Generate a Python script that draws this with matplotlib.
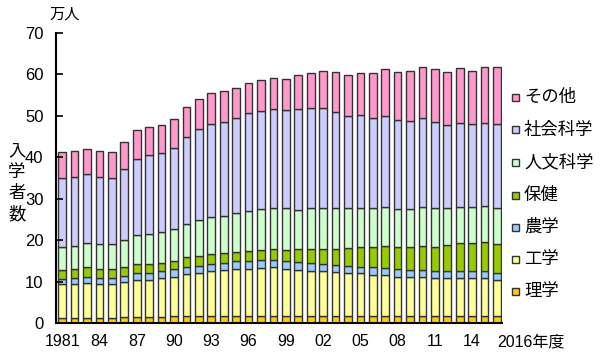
import matplotlib
matplotlib.use('Agg')
import matplotlib.pyplot as plt
from matplotlib.patches import Rectangle
import numpy as np

plt.rcParams['font.family'] = ['Liberation Sans', 'Noto Sans CJK JP']

years = list(range(1981, 2017))
tick_labels = ['1981', '84', '87', '90', '93', '96', '99', '02', '05', '08', '11', '14']
last_label = '2016年度'

# 万人
rigaku = [1.3, 1.3, 1.3, 1.3, 1.3, 1.4, 1.5, 1.5, 1.5, 1.6, 1.6, 1.7,
          1.8, 1.8, 1.8, 1.8, 1.8, 1.8, 1.8, 1.8, 1.8, 1.8, 1.8, 1.8,
          1.8, 1.8, 1.8, 1.8, 1.8, 1.8, 1.8, 1.8, 1.8, 1.8, 1.8, 1.8]
kougaku = [8.0, 8.1, 8.3, 8.1, 8.0, 8.4, 8.9, 9.0, 9.3, 9.6, 10.2, 10.4,
           10.8, 11.0, 11.2, 11.2, 11.4, 11.6, 11.2, 11.0, 10.8, 10.8, 10.5, 10.2,
           10.2, 9.8, 9.8, 9.4, 9.2, 9.2, 9.0, 9.0, 9.0, 9.0, 9.0, 8.6]
nougaku = [1.3, 1.4, 1.6, 1.5, 1.6, 1.6, 1.6, 1.6, 1.8, 1.8, 1.8, 1.7,
           1.7, 1.8, 2.0, 2.0, 2.0, 1.8, 2.0, 2.0, 1.8, 1.6, 1.7, 1.8,
           1.6, 1.8, 1.6, 1.8, 1.8, 1.8, 1.8, 1.8, 1.8, 1.8, 1.8, 1.7]
hoken = [2.2, 2.2, 2.2, 2.2, 2.1, 2.2, 2.2, 2.1, 2.0, 2.0, 2.3, 2.4,
         2.4, 2.2, 2.2, 2.4, 2.4, 2.7, 2.6, 3.0, 3.5, 3.7, 3.8, 4.2,
         4.7, 4.9, 5.5, 5.3, 5.5, 5.9, 5.8, 6.2, 6.6, 6.8, 6.9, 7.0]
jinbun = [5.6, 5.7, 5.8, 6.0, 6.0, 6.4, 7.0, 7.4, 7.3, 7.6, 7.9, 8.7,
          8.9, 9.1, 9.3, 9.6, 9.8, 9.8, 10.1, 9.5, 9.8, 9.9, 9.9, 9.7,
          9.5, 9.4, 9.4, 9.2, 9.2, 9.2, 9.3, 8.9, 8.9, 8.7, 8.8, 8.6]
shakai = [16.7, 16.5, 16.7, 16.2, 15.9, 17.1, 18.5, 19.0, 19.1, 19.6, 21.2, 21.9,
          22.4, 22.7, 22.9, 23.6, 23.8, 23.9, 23.7, 24.3, 24.1, 24.0, 23.2, 22.3,
          22.4, 21.9, 21.9, 21.5, 21.3, 21.5, 20.7, 20.1, 20.2, 19.9, 20.0, 20.3]
sonota = [6.2, 6.2, 6.1, 6.3, 6.3, 6.5, 6.9, 6.7, 6.7, 7.0, 7.2, 7.3,
          7.4, 7.5, 7.4, 7.3, 7.5, 7.5, 7.5, 8.3, 8.6, 9.1, 9.6, 9.9,
          10.2, 10.7, 11.3, 11.7, 12.0, 12.5, 12.8, 12.7, 13.2, 12.9, 13.6, 13.9]

series = [
    ('理学', rigaku, '#FFCC00'),
    ('工学', kougaku, '#FFFF99'),
    ('農学', nougaku, '#99CCFF'),
    ('保健', hoken, '#99CC00'),
    ('人文科学', jinbun, '#CCFFCC'),
    ('社会科学', shakai, '#CCCCFF'),
    ('その他', sonota, '#FF99CC'),
]

W, H = 600, 355
fig = plt.figure(figsize=(6, 3.55), dpi=100)
ax = fig.add_axes([56 / W, (H - 323) / H, (502 - 56) / W, 290 / H])

x = np.arange(len(years))
bottom = np.zeros(len(years))
for name, vals, col in series:
    ax.bar(x, vals, 0.62, bottom=bottom, color=col, edgecolor='#333333', linewidth=1.0)
    bottom += np.array(vals)

ax.set_xlim(-0.5, 35.4)
ax.set_ylim(0, 70)
ax.set_yticks(range(0, 71, 10))
ax.tick_params(axis='y', direction='in', length=5, width=1.2, pad=9, labelsize=12)
ax.set_xticks(list(range(0, 36, 3)) + [35])
ax.set_xticklabels(tick_labels + [last_label], fontsize=11.5)
ax.tick_params(axis='x', length=0, pad=8)
xl = ax.get_xticklabels()
xl[-1].set_horizontalalignment('left')
xl[-1].set_fontsize(11.5)

for s in ['top', 'right']:
    ax.spines[s].set_visible(False)
ax.spines['left'].set_linewidth(1.5)
ax.spines['bottom'].set_linewidth(1.5)

fig.text(65 / W, 1 - 15 / H, '万人', ha='center', va='center', fontsize=11)
for i, ch in enumerate('入学者数'):
    fig.text(17 / W, 1 - (152 + 20.5 * i) / H, ch, ha='center', va='center', fontsize=12.5)

# legend (drawn by hand, top to bottom)
leg_y = [97, 130, 162, 195, 227, 259, 291]
for (name, vals, col), yy in zip(series[::-1], leg_y):
    fig.patches.append(Rectangle(((512) / W, 1 - (yy + 3.5) / H), 7 / W, 7 / H,
                                 transform=fig.transFigure, facecolor=col,
                                 edgecolor='#333333', linewidth=1.0))
    fig.text(524 / W, 1 - yy / H, name, ha='left', va='center', fontsize=12.5)

plt.savefig('out.png', dpi=100)
